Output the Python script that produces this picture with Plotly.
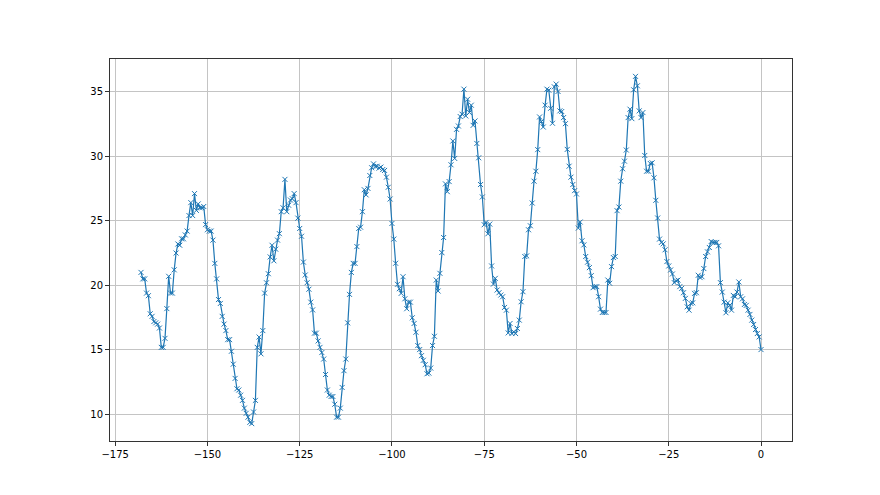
import numpy as np
import plotly.graph_objects as go

# Temperature-like readings, every half hour from -168 h to 0 h
seg_a = [21.0, 20.5, 20.5, 19.4, 19.2, 17.8, 17.6, 17.2, 17.1, 17.0, 16.7, 15.2, 15.2, 15.9, 18.2,
         20.7, 19.4, 19.4, 21.2, 22.5, 23.2, 23.1, 23.6, 23.6, 23.9, 24.2, 25.4, 26.4, 25.4, 27.1,
         25.8, 26.3, 26.0, 26.0, 26.1, 24.7, 24.3, 24.2, 24.2, 23.5, 21.7, 20.5, 18.9]
seg_b = [18.6, 17.6, 17.0, 16.5, 15.8, 15.8, 14.9, 13.9, 12.8, 12.0, 11.9, 11.5, 11.1, 10.5, 10.1,
         9.8, 9.4, 9.3, 10.2, 11.1, 15.2, 16.0, 14.7, 16.5, 19.4, 20.2, 20.9, 22.2, 23.1, 21.9,
         22.8, 23.5, 24.0, 25.7, 26.0, 28.2, 25.7, 26.2, 26.6, 26.7, 27.1, 26.4, 25.2]
seg_c = [24.4, 23.8, 21.8, 20.8, 20.2, 19.7, 18.7, 18.1, 16.3, 16.3, 15.7, 15.2, 14.8, 14.3, 13.1,
         11.9, 11.5, 11.4, 11.4, 10.8, 9.8, 9.8, 10.5, 12.1, 13.4, 14.3, 17.1, 19.3, 21.0, 21.7,
         21.7, 23.0, 24.4, 24.5, 25.7, 27.4, 27.0, 27.5, 28.5, 29.1, 29.4, 29.2]
seg_d = [29.22, 29.07, 29.15, 28.96, 28.89, 28.37, 27.59, 26.68, 24.79, 23.58, 21.71, 20.08, 19.74,
         19.38, 20.67, 18.96, 18.19, 18.7, 18.7, 17.49, 17.05, 16.37, 15.34, 15.03, 14.56, 14.2,
         13.86, 13.16, 13.21, 13.6, 15.34, 16.06, 20.41, 19.56, 20.93, 22.54, 23.7, 27.85, 27.25,
         28.03, 29.33]
seg_e = [31.17, 29.82, 32.07, 32.33, 33.06, 33.24, 35.18, 33.11, 34.40, 33.37, 33.94, 32.38, 32.72,
         30.98, 29.87, 27.80, 26.84, 24.69, 24.87, 23.99, 24.74, 21.50, 20.10, 20.54, 19.64, 19.43,
         19.25, 19.12, 18.29, 18.08, 16.32, 17.05, 16.27, 16.40, 16.27, 16.66, 17.31, 18.73, 19.51,
         22.23, 22.28, 24.30, 24.61, 26.37, 28.06, 28.83, 30.5]
seg_f = [33.03, 32.67, 32.25, 33.94, 35.18, 35.10, 33.70, 32.54, 35.36, 35.57, 35.0, 33.50, 33.45,
         32.98, 32.51, 30.52, 29.22, 28.37, 27.80, 27.33, 27.07, 24.43, 24.90, 23.45, 23.13, 22.23,
         21.79, 21.37, 20.75, 19.82, 19.90, 19.90, 19.12, 18.16, 17.90, 17.90, 17.90, 20.41, 20.16,
         21.45, 22.15, 22.23, 25.78]
seg_g = [26.06, 28.06, 29.02, 29.61, 30.47, 32.98, 33.63, 32.90, 35.13, 36.17, 35.44, 33.50, 32.98,
         33.37, 30.05, 28.83, 28.83, 29.43, 29.48, 28.32, 26.58, 25.21, 23.58, 23.32, 23.21, 22.75,
         21.84, 21.50, 21.19, 20.88, 20.21, 20.36, 20.41, 19.90, 19.77, 19.43, 18.99, 18.34, 18.08]
seg_h = [18.60, 18.65, 19.38, 19.43, 20.78, 20.60, 20.67, 21.30, 22.23, 22.59, 22.93, 23.39, 23.32,
         23.32, 23.32, 23.06, 20.21, 19.48, 18.70, 17.88, 18.65, 18.45, 18.08, 19.22, 19.12, 19.48,
         20.26, 19.12, 18.96, 18.52, 18.45, 18.08, 17.75, 17.31, 16.97, 16.58, 16.27, 16.01, 15.03]

values = seg_a + seg_b + seg_c + seg_d + seg_e + seg_f + seg_g + seg_h
start_hour, end_hour = -168, 0
hours = np.linspace(start_hour, end_hour, len(values))

x_ticks = [-175, -150, -125, -100, -75, -50, -25, 0]
x_tick_text = ["\u2212175", "\u2212150", "\u2212125", "\u2212100", "\u221275", "\u221250", "\u221225", "0"]
y_ticks = [10, 15, 20, 25, 30, 35]

blue = "#1f77b4"

fig = go.Figure(go.Scatter(
    x=hours, y=values, mode="lines+markers",
    line=dict(color=blue, width=1.2),
    marker=dict(symbol="x-thin", size=5, line=dict(color=blue, width=1), color=blue),
    showlegend=False,
))

xspan = hours.max() - hours.min()
ymin, ymax = min(values), max(values)
yspan = ymax - ymin

axis_common = dict(
    showline=True, linecolor="#333333", linewidth=1, mirror=True,
    showgrid=True, gridcolor="#c4c4c4", gridwidth=1,
    zeroline=False, ticks="outside", ticklen=4, tickcolor="#333333", tickwidth=1,
    tickfont=dict(family="DejaVu Sans", size=10, color="black"),
)

fig.update_layout(
    width=880, height=495,
    margin=dict(l=102, r=96, t=51, b=62),
    paper_bgcolor="white", plot_bgcolor="white",
    xaxis=dict(range=[hours.min() - 0.05 * xspan, hours.max() + 0.05 * xspan],
               tickvals=x_ticks, ticktext=x_tick_text, **axis_common),
    yaxis=dict(range=[ymin - 0.05 * yspan, ymax + 0.05 * yspan],
               tickvals=y_ticks, **axis_common),
)

fig.write_html("out.html")
